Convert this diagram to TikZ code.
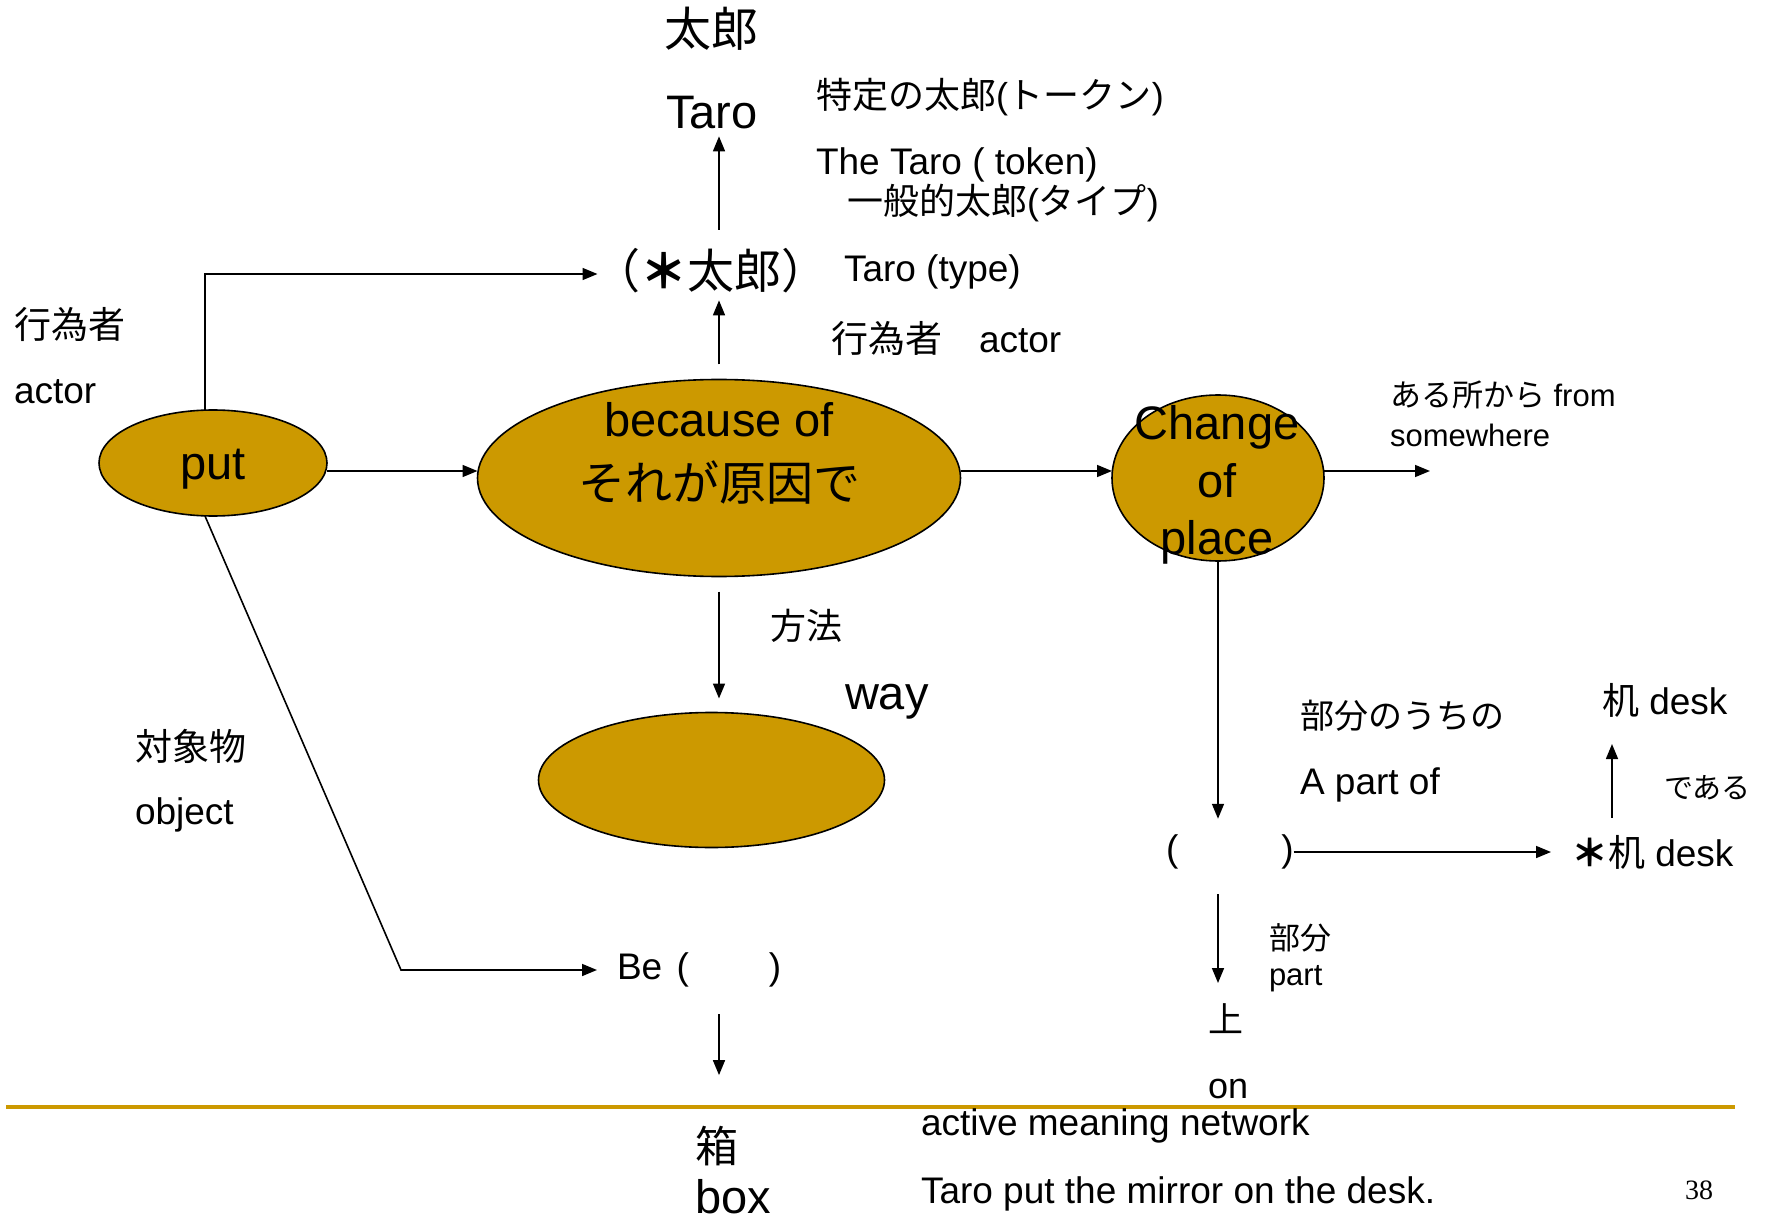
\documentclass[tikz,border=0pt]{standalone}
\usepackage{fontspec}
\setmainfont{Liberation Sans}
\newfontfamily\jp{Noto Sans CJK JP}
\newfontfamily\numfont{Liberation Serif}
\usetikzlibrary{shapes.geometric,arrows.meta}
\definecolor{gold}{RGB}{204,153,0}
\newcommand\fsz[1]{\fontsize{#1}{#1}\selectfont}
\begin{document}
\begin{tikzpicture}[x=1pt,y=-1pt,
  txt/.style={inner sep=0pt,outer sep=0pt},
  arr/.style={-{Triangle[length=15pt,width=12pt]},line width=1.6pt},
  blob/.style={ellipse,draw,line width=1.6pt,fill=gold,inner sep=0pt,outer sep=0pt}]
\useasboundingbox (0,0) rectangle (1765,1222);

% ellipses
\node[blob,minimum width=228pt,minimum height=106pt] (put) at (213,463) {};
\node[txt,font=\fsz{47}] (puttxt) at (213,469) {put};
\node[blob,minimum width=483pt,minimum height=197pt] (cause) at (719,478) {};
\node[txt,font=\fsz{47}] (cause1) at (719,420) {because of};
\node[txt,font=\jp\fsz{47}] (cause2) at (719,482) {それが原因で};
\node[blob,minimum width=212pt,minimum height=166pt] (chg) at (1218,478) {};
\node[txt,font=\fontsize{47}{57.5}\selectfont,align=center] (chgtxt) at (1217,485) {Change\\of\\place};
\node[blob,minimum width=346pt,minimum height=135pt] (wayell) at (711.5,780) {};

% top column
\node[txt,font=\jp\fsz{47}] (tj) at (711,29) {太郎};
\node[txt,font=\fsz{47}] (taro) at (712,113) {Taro};
\node[txt,font=\jp\fsz{47}] (star) at (711,271) {（{\bfseries ＊}太郎）};
\node[txt,font=\jp\fsz{36},anchor=west] (tok1) at (816,97) {特定の太郎{\rmfamily(}トークン{\rmfamily)}};
\node[txt,font=\fsz{37},anchor=west] (tok2) at (816,165) {The Taro ( token)};
\node[txt,font=\jp\fsz{36},anchor=west] (typ1) at (847,203) {一般的太郎{\rmfamily(}タイプ{\rmfamily)}};
\node[txt,font=\fsz{37},anchor=west] (typ2) at (844,272) {Taro (type)};
\node[txt,font=\fsz{37},anchor=west] (act2) at (831,338) {{\jp 行為者　}actor};

% left labels
\node[txt,font=\jp\fsz{37},anchor=west] (act1a) at (14,324) {行為者};
\node[txt,font=\fsz{37},anchor=west] (act1b) at (14,392) {actor};
\node[txt,font=\jp\fsz{37},anchor=west] (obj1) at (135,746) {対象物};
\node[txt,font=\fsz{37},anchor=west] (obj2) at (135,815) {object};

% way
\node[txt,font=\jp\fsz{36},anchor=west] (way1) at (770,626) {方法};
\node[txt,font=\fsz{47},anchor=west] (way2) at (845,702) {way};

% from somewhere
\node[txt,font=\fsz{31},anchor=west] (from1) at (1390,395) {{\jp ある所から} from};
\node[txt,font=\fsz{31},anchor=west] (from2) at (1390,435) {somewhere};
\coordinate (fromend) at (1430,471);

% right part
\node[txt,font=\fsz{37},anchor=west] (slot) at (1166,852) {(\hspace{103pt})};
\node[txt,font=\fsz{37},anchor=west] (desk) at (1571,852) {{\jp {\bfseries ＊}机} desk};
\node[txt,font=\fsz{37},anchor=west] (desk2) at (1602,700) {{\jp 机} desk};
\node[txt,font=\jp\fsz{29},anchor=west] (dearu) at (1664,788) {である};
\node[txt,font=\jp\fsz{34},anchor=west] (partof1) at (1300,716) {部分のうちの};
\node[txt,font=\fsz{37},anchor=west] (partof2) at (1300,785) {A part of};
\node[txt,font=\jp\fsz{31},anchor=west] (part1) at (1269,938) {部分};
\node[txt,font=\fsz{31},anchor=west] (part2) at (1269,979) {part};
\node[txt,font=\jp\fsz{35},anchor=west] (ue) at (1208,1019) {上};
\node[txt,font=\fsz{36},anchor=west] (on) at (1208,1089) {on};

% Be / box
\node[txt,font=\fsz{37},anchor=west] (be) at (617,970) {Be\hspace{4pt} (\hspace{80pt})};
\coordinate (bend) at (401,970);
\node[txt,font=\jp\fsz{43},anchor=west] (hako) at (695,1146) {箱};
\node[txt,font=\fsz{47},anchor=west] (box) at (695,1197) {box};

% footer
\draw[gold,line width=4pt] (6,1107) -- (1735,1107);
\node[txt,font=\fsz{37},anchor=west] (foot1) at (921,1126) {active meaning network};
\node[txt,font=\fsz{37},anchor=west] (foot2) at (921,1194) {Taro put the mirror on the desk.};
\node[txt,font=\numfont\fsz{28}] (pg) at (1699,1190) {38};

% connectors
\draw[arr] ([yshift=19pt]star.north -| cause.north) -- ([yshift=-7pt]taro.south -| cause.north);
\draw[arr] ([yshift=15pt]cause.north) -- ([yshift=-7pt]star.south -| cause.north);
\draw[arr] ([xshift=-8pt]put.north) |- ([xshift=4pt,yshift=-3pt]star.west);
\draw[arr] ([yshift=-8pt]put.east) -- ([yshift=-8pt]put.east -| cause.west);
\draw[arr] ([yshift=7pt]cause.east) -- ([yshift=7pt]cause.east -| chg.west);
\draw[arr] ([yshift=7pt]chg.east) -- (fromend);
\draw[arr] ([yshift=-15pt]cause.south) -- ([yshift=14pt]wayell.north -| cause.south);
\draw[arr] ([xshift=-8pt]put.south) -- (bend) -- ([xshift=-20pt]be.west);
\draw[arr] ([yshift=-27pt]be.south -| cause.south) -- ([yshift=51pt]hako.north -| cause.south);
\draw[arr] (chg.south) -- ([yshift=16pt]slot.north -| chg.south);
\draw[arr] (slot.east) -- ([xshift=-20pt]desk.west);
\draw[arr] ([xshift=41pt,yshift=17pt]desk.north west) -- ([xshift=10pt,yshift=-27pt]desk2.south west);
\draw[arr] ([yshift=-25pt]slot.south -| chg.south) -- ([yshift=21pt]ue.north -| chg.south);
\end{tikzpicture}
\end{document}
